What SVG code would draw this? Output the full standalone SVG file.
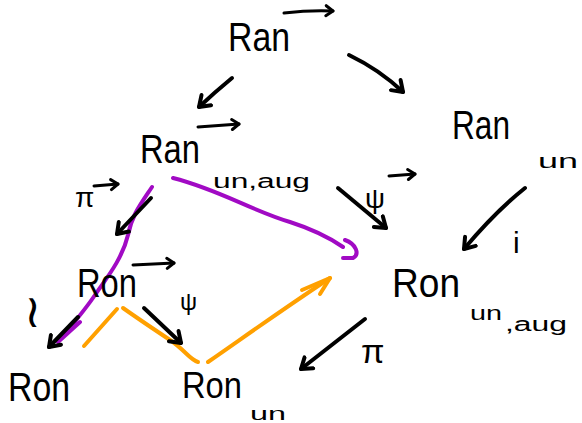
<svg xmlns="http://www.w3.org/2000/svg" width="582" height="423" viewBox="0 0 582 423">
  <defs>
    <marker id="head" viewBox="-12 -10 16 20" markerWidth="16" markerHeight="20" markerUnits="userSpaceOnUse" orient="auto" refX="0" refY="0">
      <path d="M-10,-7 L0,0 L-10,7" fill="none" stroke="#000" stroke-width="4" stroke-linecap="round" stroke-linejoin="round"/>
    </marker>
    <marker id="headSmall" viewBox="-10 -8 13 16" markerWidth="13" markerHeight="16" markerUnits="userSpaceOnUse" orient="auto" refX="0" refY="0">
      <path d="M-7,-5 L0,0 L-7,5" fill="none" stroke="#000" stroke-width="3" stroke-linecap="round" stroke-linejoin="round"/>
    </marker>
  </defs>
  <style>
    .lbl { font-family: "Liberation Sans", "DejaVu Sans", sans-serif; fill: #000; }
    .big { font-size: 40px; }
    .sub { font-size: 20px; }
    .sym { font-size: 28px; }
    .arrow { fill: none; stroke: #000; stroke-width: 4; stroke-linecap: round; marker-end: url(#head); }
    .vec { fill: none; stroke: #000; stroke-width: 3; stroke-linecap: round; marker-end: url(#headSmall); }
    .purple { fill: none; stroke: #a10ac4; stroke-width: 4; stroke-linecap: round; stroke-linejoin: round; }
    .orange { fill: none; stroke: #ffa000; stroke-width: 4; stroke-linecap: round; stroke-linejoin: round; }
  </style>
  <rect width="582" height="423" fill="#fff"/>

  <!-- highlighted paths -->
  <g id="highlights">
    <path class="purple" d="M173,178 C220,190 250,210 290,222 C315,230 330,238 343,247"/>
    <path class="purple" d="M345,240 C356,244 360,254 353,258 L343,258"/>
    <path class="purple" d="M152,187 C140,205 132,215 128,235 C122,260 105,280 95,295 C85,310 72,325 58,342 L80,322"/>
    <path class="orange" d="M84,346 L117,309"/>
    <path class="orange" d="M123,308 C140,320 155,330 170,340 C185,350 190,360 198,362"/>
    <path class="orange" d="M208,362 C240,340 270,318 330,278"/>
    <path class="orange" d="M302,290 L330,278 L320,294"/>
  </g>

  <!-- connectors -->
  <g id="connectors">
    <path class="arrow" d="M232,78 Q215,92 199,107"/>
    <path class="arrow" d="M349,55 Q380,70 403,92"/>
    <path class="arrow" d="M338,188 L386,228"/>
    <path class="arrow" d="M525,188 Q495,212 464,249"/>
    <path class="arrow" d="M365,319 L301,369"/>
    <path class="arrow" d="M151,198 L117,234"/>
    <path class="arrow" d="M78,317 L49,347"/>
    <path class="arrow" d="M144,308 L181,343"/>
  </g>

  <!-- nodes -->
  <g id="ran">
    <text class="lbl big" x="228" y="51" textLength="62" lengthAdjust="spacingAndGlyphs">Ran</text>
    <path class="vec" d="M284,13 Q310,10 333,11"/>
  </g>
  <g id="ran-un">
    <text class="lbl big" x="452" y="139" textLength="58" lengthAdjust="spacingAndGlyphs">Ran</text>
    <text class="lbl sub" x="538" y="168" textLength="40" lengthAdjust="spacingAndGlyphs">un</text>
  </g>
  <g id="ran-un-aug">
    <text class="lbl big" x="140" y="163" textLength="60" lengthAdjust="spacingAndGlyphs">Ran</text>
    <text class="lbl sub" x="213" y="188" textLength="97" lengthAdjust="spacingAndGlyphs">un,aug</text>
    <path class="vec" d="M198,127 L239,124"/>
  </g>
  <g id="ron-un-aug">
    <text class="lbl big" x="392" y="297" textLength="68" lengthAdjust="spacingAndGlyphs">Ron</text>
    <text class="lbl sub" x="470" y="320" textLength="32" lengthAdjust="spacingAndGlyphs">un</text>
    <text class="lbl sub" x="505" y="331" textLength="62" lengthAdjust="spacingAndGlyphs">,aug</text>
  </g>
  <g id="ron">
    <text class="lbl big" x="77" y="297" textLength="60" lengthAdjust="spacingAndGlyphs">Ron</text>
    <path class="vec" d="M133,265 L174,263"/>
  </g>
  <g id="ron-left">
    <text class="lbl big" x="8" y="401" textLength="62" lengthAdjust="spacingAndGlyphs">Ron</text>
  </g>
  <g id="ron-un">
    <text class="lbl" font-size="36" x="182" y="398" textLength="60" lengthAdjust="spacingAndGlyphs">Ron</text>
    <text class="lbl" font-size="18" x="250" y="420" textLength="36" lengthAdjust="spacingAndGlyphs">un</text>
  </g>

  <!-- edge labels -->
  <g id="labels">
    <text class="lbl sym" x="365" y="208">ψ</text>
    <path class="vec" d="M389,176 L415,174"/>
    <text class="lbl" font-size="30" x="513" y="253">i</text>
    <text class="lbl" font-size="34" x="361" y="363">π</text>
    <text class="lbl sym" x="75" y="207">π</text>
    <path class="vec" d="M94,186 L118,184"/>
    <text class="lbl" font-size="46" x="24" y="327">≀</text>
    <text class="lbl" font-size="24" x="180" y="310">ψ</text>
  </g>
</svg>
